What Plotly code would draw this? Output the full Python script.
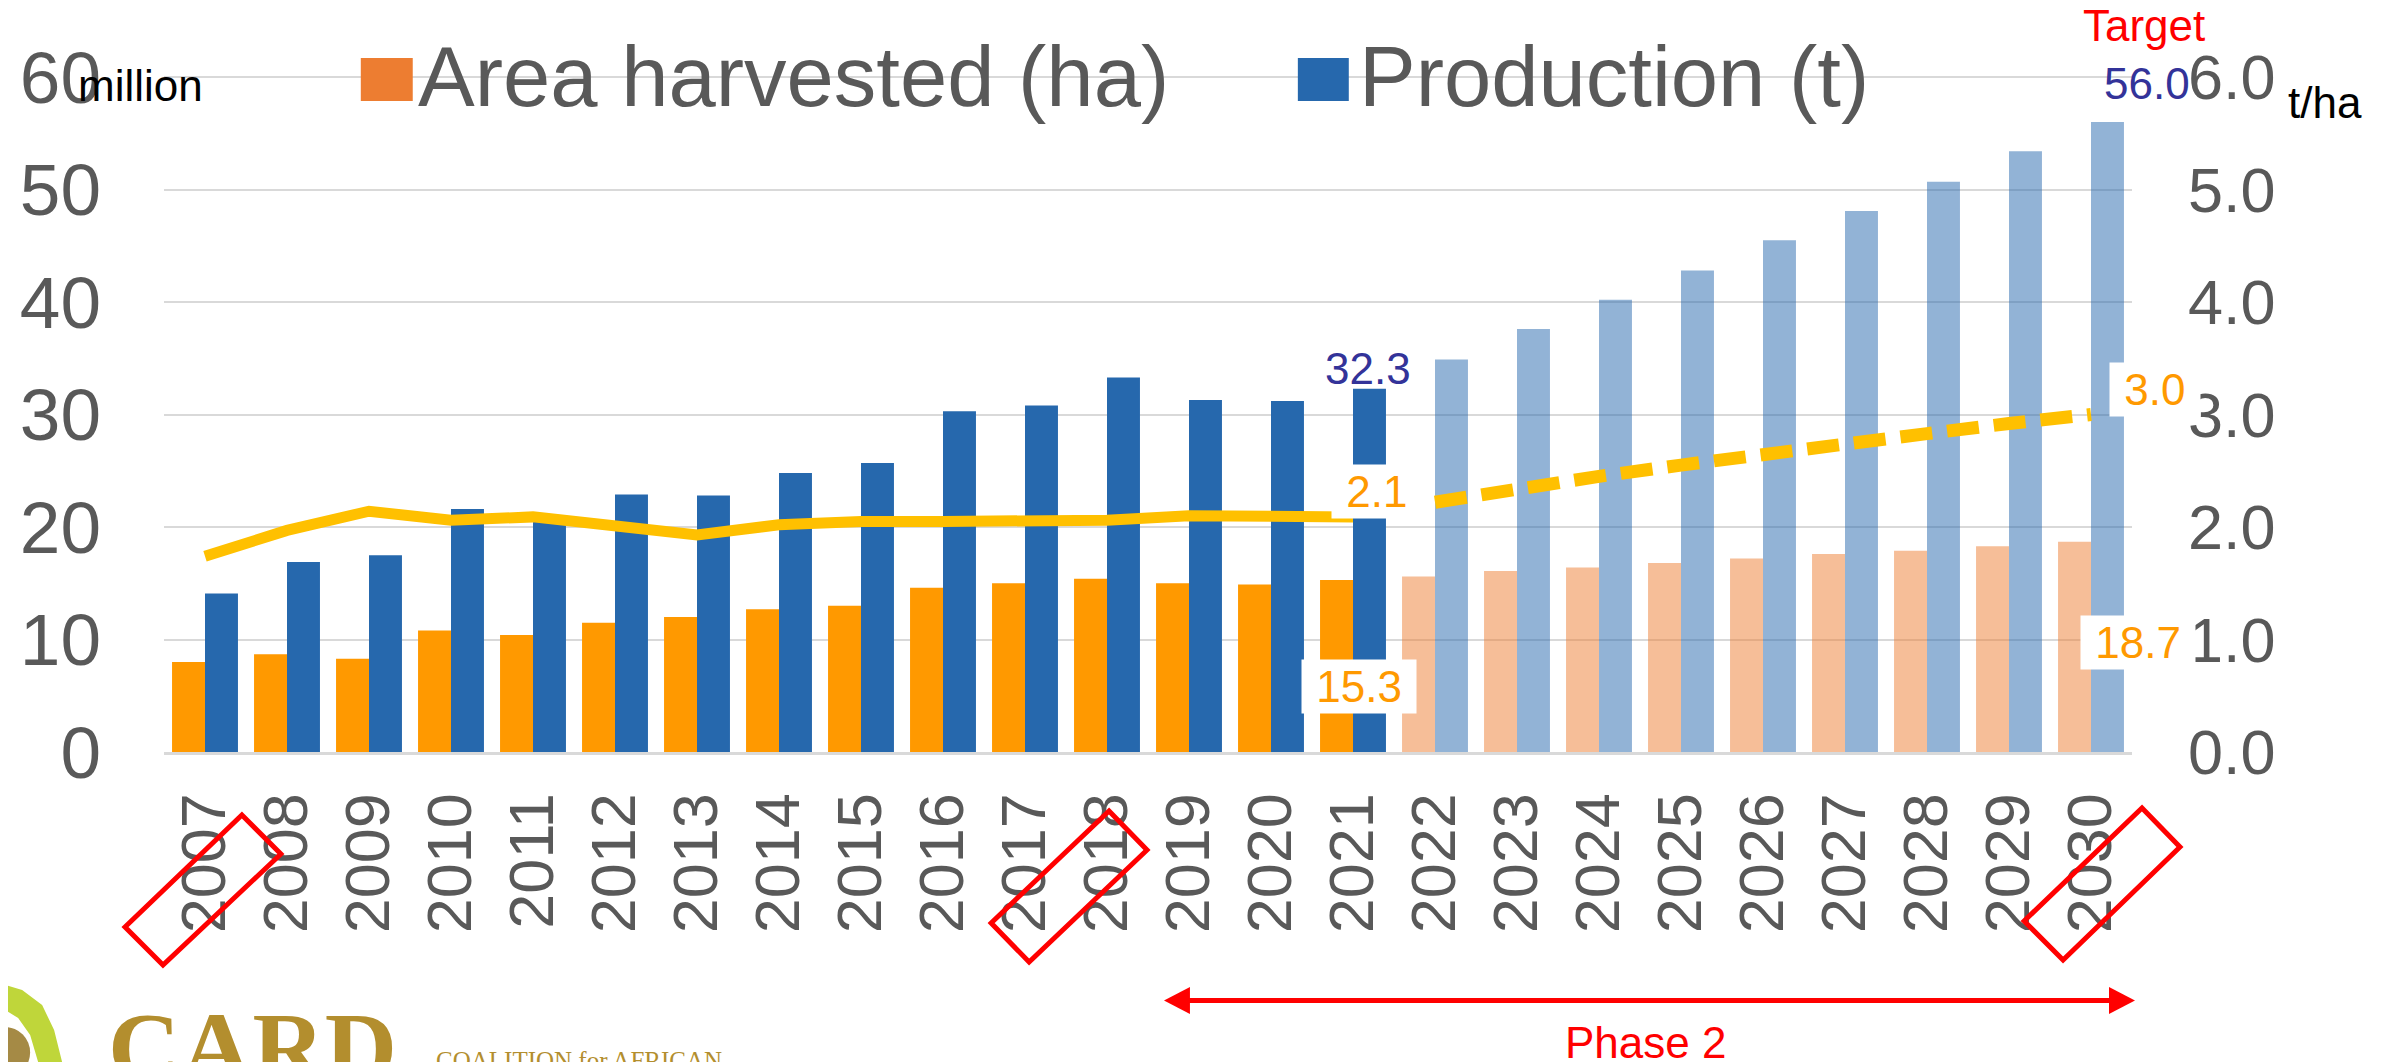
import plotly.graph_objects as go

# ---------------- data ----------------
years = [str(y) for y in range(2007, 2031)]
hist_years = years[:15]          # 2007-2021
proj_years = years[15:]          # 2022-2030

area_hist = [8.0, 8.7, 8.3, 10.8, 10.4, 11.5, 12.0, 12.7, 13.0, 14.6, 15.0, 15.4, 15.0, 14.9, 15.3]
area_proj = [15.6, 16.1, 16.4, 16.8, 17.2, 17.6, 17.9, 18.3, 18.7]
prod_hist = [14.1, 16.9, 17.5, 21.6, 20.8, 22.9, 22.8, 24.8, 25.7, 30.3, 30.8, 33.3, 31.3, 31.2, 32.3]
prod_proj = [34.9, 37.6, 40.2, 42.8, 45.5, 48.1, 50.7, 53.4, 56.0]
yield_hist = [1.74, 1.97, 2.14, 2.06, 2.09, 2.02, 1.93, 2.02, 2.05, 2.05, 2.05, 2.06, 2.10, 2.10, 2.09]
yield_proj = [2.22, 2.34, 2.45, 2.55, 2.65, 2.73, 2.83, 2.92, 3.0]

left_ticks = [0, 10, 20, 30, 40, 50, 60]
right_ticks = [0.0, 1.0, 2.0, 3.0, 4.0, 5.0, 6.0]

# ---------------- styles ----------------
FONT = "Liberation Sans, Arial, sans-serif"
GRAY = "#595959"
GRID = "#D9D9D9"
ORANGE = "#FF9900"
ORANGE_LEG = "#ED7D31"
ORANGE_PROJ = "rgba(237,125,49,0.5)"
BLUE = "#2668AD"
BLUE_PROJ = "rgba(38,104,173,0.5)"
YELLOW = "#FFC000"
RED = "#FF0000"

PAGE = 8                      # default <body> margin of the html page
W_PX, H_PX = 2387 - PAGE, 1062 - PAGE
L, T, PW, PH = 162, 77, 1970, 675   # plot area on screen


def px(x):
    return (x - L) / PW


def py(y):
    return (T + PH - y) / PH


i_2021 = years.index(hist_years[-1])
i_2030 = years.index(proj_years[-1])

fig = go.Figure()

fig.add_trace(go.Bar(
    x=years, y=area_hist + area_proj, name="Area harvested (ha)",
    marker=dict(color=[ORANGE] * len(area_hist) + [ORANGE_PROJ] * len(area_proj), line=dict(width=0)),
    showlegend=False))
fig.add_trace(go.Bar(
    x=years, y=prod_hist + prod_proj, name="Production (t)",
    marker=dict(color=[BLUE] * len(prod_hist) + [BLUE_PROJ] * len(prod_proj), line=dict(width=0)),
    showlegend=False))
fig.add_trace(go.Scatter(
    x=hist_years, y=yield_hist, yaxis="y2", mode="lines", name="Yield",
    line=dict(color=YELLOW, width=11), showlegend=False))
fig.add_trace(go.Scatter(
    x=proj_years, y=yield_proj, yaxis="y2", mode="lines", name="Yield target",
    line=dict(color=YELLOW, width=13, dash="32px,15px"), showlegend=False))

fig.update_layout(
    width=W_PX, height=H_PX,
    margin=dict(l=L - PAGE, r=W_PX - (L - PAGE) - PW, t=T - PAGE, b=H_PX - (T - PAGE) - PH, pad=0),
    paper_bgcolor="white", plot_bgcolor="white",
    barmode="group", bargap=0.196, bargroupgap=0,
    showlegend=False,
    font=dict(family=FONT, color=GRAY),
    xaxis=dict(type="category", categoryorder="array", categoryarray=years,
               range=[-0.5, len(years) - 0.5], autorange=False,
               tickangle=-90, tickfont=dict(size=63, color=GRAY, family=FONT),
               showline=True, linecolor=GRID, linewidth=3, ticks="",
               showgrid=False, ticklabelstandoff=13),
    yaxis=dict(range=[0, 60], autorange=False, tickvals=left_ticks, ticktext=[str(v) for v in left_ticks],
               tickfont=dict(size=73, color=GRAY, family=FONT),
               showgrid=True, gridcolor=GRID, gridwidth=2, zeroline=False,
               ticks="", ticklabelstandoff=62),
    yaxis2=dict(range=[0, 6], autorange=False, overlaying="y", side="right", tickvals=right_ticks,
                ticktext=[f"{v:.1f}" for v in right_ticks],
                tickfont=dict(size=63, color=GRAY, family=FONT),
                showgrid=False, zeroline=False, ticks="", ticklabelstandoff=55),
)

shapes = []
annotations = []

# top gridline (plotly omits the one lying on the plot edge)
shapes.append(dict(type="line", xref="paper", yref="paper", x0=0, x1=1, y0=1, y1=1,
                   line=dict(color=GRID, width=2), layer="below"))


def text(t, x, y, size, color, family=FONT, xanchor="center", yanchor="middle", **kw):
    annotations.append(dict(text=t, xref="paper", yref="paper", x=px(x), y=py(y),
                            xanchor=xanchor, yanchor=yanchor, showarrow=False,
                            font=dict(size=size, color=color, family=family), **kw))


# manual legend
shapes.append(dict(type="rect", xref="paper", yref="paper", x0=px(359), x1=px(411), y0=py(101), y1=py(58),
                   fillcolor=ORANGE_LEG, line=dict(width=0)))
shapes.append(dict(type="rect", xref="paper", yref="paper", x0=px(1297), x1=px(1348), y0=py(101), y1=py(58),
                   fillcolor=BLUE, line=dict(width=0)))
text("Area harvested (ha)", 414, 76, 85, GRAY, xanchor="left")
text("Production (t)", 1356, 76, 85, GRAY, xanchor="left")

# units / headings
text("million", 138, 86, 44, "black")
text("t/ha", 2325, 102, 44, "black")
text("Target", 2144, 25, 44, RED)

# value labels (anchored to data)
NB = "\u00a0"
annotations.append(dict(text=f"{prod_hist[-1]:.1f}", x=i_2021, y=prod_hist[-1], xref="x", yref="y",
                        xshift=15, yshift=20, showarrow=False,
                        font=dict(size=44, color="#333399", family=FONT)))
annotations.append(dict(text=f"{prod_proj[-1]:.1f}", x=i_2030, y=prod_proj[-1], xref="x", yref="y",
                        xshift=56, yshift=39, showarrow=False,
                        font=dict(size=44, color="#333399", family=FONT)))
annotations.append(dict(text=f"{NB}2.1{NB}", x=i_2021, y=2.1, xref="x", yref="y2",
                        xshift=24, yshift=24, showarrow=False, bgcolor="white", borderpad=2,
                        font=dict(size=44, color=ORANGE, family=FONT)))
annotations.append(dict(text=f"{NB}{area_hist[-1]:.1f}{NB}", x=i_2021, y=area_hist[-1], xref="x", yref="y",
                        xshift=6, yshift=-107, showarrow=False, bgcolor="white", borderpad=2,
                        font=dict(size=44, color=ORANGE, family=FONT)))
annotations.append(dict(text=f"{NB}{yield_proj[-1]:.1f}{NB}", x=i_2030, y=yield_proj[-1], xref="x", yref="y2",
                        xshift=64, yshift=25, showarrow=False, bgcolor="white", borderpad=2,
                        font=dict(size=44, color=ORANGE, family=FONT)))
annotations.append(dict(text=f"{NB}{area_proj[-1]:.1f}{NB}", x=i_2030, y=area_proj[-1], xref="x", yref="y",
                        xshift=47, yshift=-101, showarrow=False, bgcolor="white", borderpad=2,
                        font=dict(size=44, color=ORANGE, family=FONT)))

# red highlight boxes around year labels
boxes = [
    [(240, 815), (279, 854), (161, 965), (123, 927)],
    [(1108, 811), (1146, 850), (1028, 962), (990, 923)],
    [(2142, 808), (2180, 847), (2063, 960), (2024, 921)],
]
for b in boxes:
    path = "M " + " L ".join(f"{px(x):.5f},{py(y):.5f}" for x, y in b) + " Z"
    shapes.append(dict(type="path", xref="paper", yref="paper", path=path,
                       line=dict(color=RED, width=5), fillcolor="rgba(0,0,0,0)"))

# Phase 2 arrow
shapes.append(dict(type="line", xref="paper", yref="paper", x0=px(1185), x1=px(2112), y0=py(1000.5), y1=py(1000.5),
                   line=dict(color=RED, width=5)))
for tri in ([(1163, 1000.5), (1189, 987), (1189, 1014)], [(2135, 1000.5), (2109, 987), (2109, 1014)]):
    path = "M " + " L ".join(f"{px(x):.5f},{py(y):.5f}" for x, y in tri) + " Z"
    shapes.append(dict(type="path", xref="paper", yref="paper", path=path,
                       line=dict(width=0), fillcolor=RED))
text("Phase 2", 1645, 1042, 44, RED)

# CARD logo (approximation, cut off at the bottom edge)
green = [(0, 984), (20, 990), (40, 1005), (52, 1030), (60, 1062), (36, 1062), (28, 1035), (16, 1018), (0, 1008)]
path = "M " + " L ".join(f"{px(x):.5f},{py(y):.5f}" for x, y in green) + " Z"
shapes.append(dict(type="path", xref="paper", yref="paper", path=path, line=dict(width=0), fillcolor="#BFD63A"))
shapes.append(dict(type="circle", xref="paper", yref="paper", x0=px(-22), x1=px(28), y0=py(1078), y1=py(1027),
                   line=dict(width=0), fillcolor="#A58A45"))
text("<b>CARD</b>", 104, 990, 100, "#B38E2E", family="Liberation Serif, serif", xanchor="left", yanchor="top")
text("COALITION for AFRICAN", 432, 1045, 25, "#B38E2E", family="Liberation Serif, serif",
     xanchor="left", yanchor="top")

fig.update_layout(shapes=shapes, annotations=annotations)

fig.write_html("out.html")
